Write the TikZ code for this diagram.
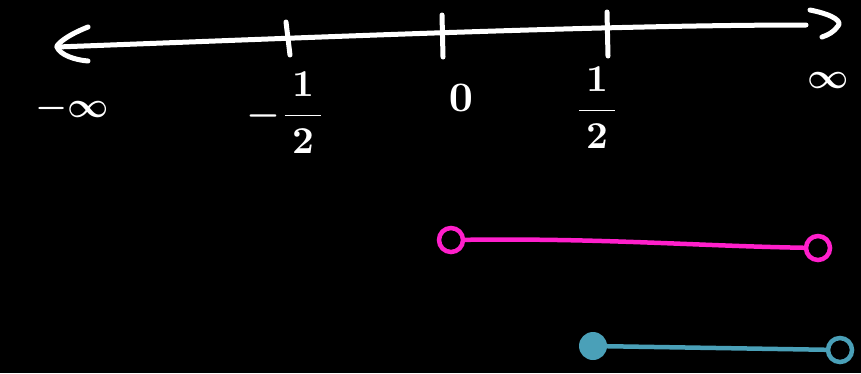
\documentclass[tikz,border=0pt]{standalone}
\usepackage{amsmath}
\usepackage{graphicx}
\begin{document}
\begin{tikzpicture}[x=1pt,y=-1pt,
  chalk/.style={draw=white,line width=5pt,line cap=round,line join=round},
  lbl/.style={text=white,inner sep=0pt},
  opendot/.style={circle,draw=#1,line width=4.5pt,minimum size=24pt,inner sep=0pt},
  filldot/.style={circle,fill=#1,minimum size=28pt,inner sep=0pt},
  seg/.style={draw=#1,line width=4.5pt,line cap=round}]
\definecolor{pinkc}{HTML}{FF1FCB}
\definecolor{bluec}{HTML}{4AA0B8}
\fill[black] (0,0) rectangle (861,373);
\useasboundingbox (0,0) rectangle (861,373);
% axis
\coordinate (L) at (57,47);
\coordinate (R) at (806,25);
\draw[chalk] (L) .. controls (300,38) and (600,25) .. (R);
\draw[chalk] (88,27) .. controls (60,38) and (55,48) .. (L) .. controls (60,55) and (75,60) .. (88,61);
\draw[chalk] (810,10) .. controls (835,15) and (842,22) .. (838,26) .. controls (834,32) and (828,35) .. (822,37);
% ticks
\coordinate (t1a) at (286,22); \coordinate (t1b) at (290,55);
\coordinate (t2a) at (442,15); \coordinate (t2b) at (443,57);
\coordinate (t3a) at (607,12); \coordinate (t3b) at (608,56);
\draw[chalk] (t1a) -- (t1b);
\draw[chalk] (t2a) -- (t2b);
\draw[chalk] (t3a) -- (t3b);
% labels
\node[lbl] (ninf) at (72,108) {\scalebox{3.6}{\boldmath$-\infty$}};
\node[lbl] (nhalf) at (286,113) {\scalebox{3.8}{\boldmath$-\dfrac{\,1\,}{\,2\,}$}};
\node[lbl] (zero) at (461,98) {\scalebox{4.2}{\boldmath$0$}};
\node[lbl] (half) at (597,108) {\scalebox{3.8}{\boldmath$\dfrac{\,1\,}{\,2\,}$}};
\node[lbl] (pinf) at (828,80) {\scalebox{3.6}{\boldmath$\infty$}};
% pink interval
\node[opendot=pinkc] (p1) at (451,240) {};
\node[opendot=pinkc] (p2) at (818,248) {};
\draw[seg=pinkc] (p1) .. controls (600,238) and (700,246) .. (p2);
% blue interval
\node[filldot=bluec] (b1) at (593,346) {};
\node[opendot=bluec] (b2) at (840,350) {};
\draw[seg=bluec] (b1) -- (b2);
\end{tikzpicture}
\end{document}
